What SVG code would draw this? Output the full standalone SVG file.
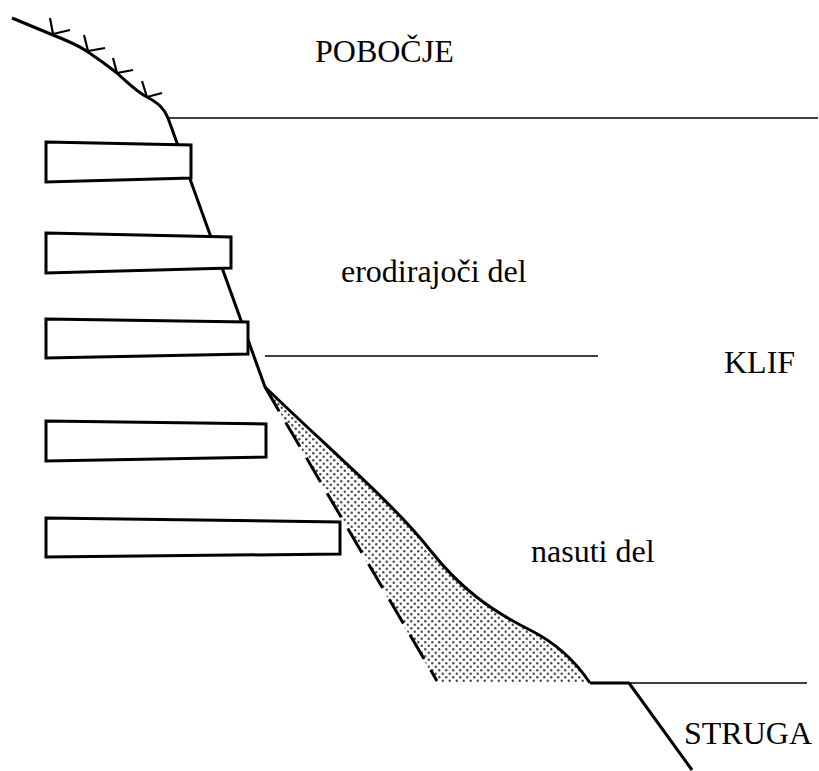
<svg xmlns="http://www.w3.org/2000/svg" width="819" height="771" viewBox="0 0 819 771">
  <style>
    .bold { fill: none; stroke: #000; stroke-width: 3; stroke-linejoin: round; stroke-linecap: butt; }
    .tick { fill: none; stroke: #000; stroke-width: 2.2; stroke-linejoin: miter; }
    .thin { fill: none; stroke: #000; stroke-width: 1.5; }
    .block { fill: #fff; stroke: #000; stroke-width: 3; stroke-linejoin: miter; }
    .label { font-family: "Liberation Serif", "Times New Roman", serif; font-size: 32px; fill: #000; }
  </style>
  <defs>
    <pattern id="stipple" x="0" y="0" width="7" height="7" patternUnits="userSpaceOnUse">
      <circle cx="1.75" cy="1.75" r="1.2" fill="#4a4a4a"/>
      <circle cx="5.25" cy="5.25" r="1.2" fill="#4a4a4a"/>
    </pattern>
    <!-- surface of the deposited material -->
    <path id="fillSurface" d="M265,387 C330,450 395,505 430,550 C460,588 490,610 530,630 C560,645 578,665 590,683"/>
  </defs>
  <rect width="819" height="771" fill="#fff"/>

  <!-- deposited material at the foot of the cliff -->
  <g id="deposit">
    <path d="M265,387 C330,450 395,505 430,550 C460,588 490,610 530,630 C560,645 578,665 590,683 L437,683 Z" fill="url(#stipple)"/>
  </g>

  <!-- slope, cliff, reference lines -->
  <g id="profile">
    <path class="bold" d="M12,18 L53,35 C68,41 80,46 88,52 C100,60 108,66 117,73 C127,82 137,92 147,97 C158,103 164,108 168,118 L265,387"/>
    <use href="#fillSurface" class="bold"/>
    <path class="bold" d="M590,683 L629,683 L692,770"/>
    <path class="bold" d="M265,387 L437,681" stroke-dasharray="28 13"/>
    <line class="thin" x1="168" y1="118" x2="818" y2="118"/>
    <line class="thin" x1="265" y1="356" x2="598" y2="356"/>
    <line class="thin" x1="629" y1="683" x2="807" y2="683"/>
  </g>

  <!-- vegetation ticks on the slope -->
  <g id="ticks">
    <polyline class="tick" points="50,18 53,34 70,30"/>
    <polyline class="tick" points="84,35 88,51 105,48"/>
    <polyline class="tick" points="113,58 117,73 133,70"/>
    <polyline class="tick" points="142,81 147,97 162,93"/>
  </g>

  <!-- tapered blocks -->
  <g id="block1"><polygon class="block" points="46,142 191,145 191,178 46,182"/></g>
  <g id="block2"><polygon class="block" points="46,233 231,237 231,268 46,273"/></g>
  <g id="block3"><polygon class="block" points="46,319 248,322 248,354 46,358"/></g>
  <g id="block4"><polygon class="block" points="46,421 266,424 266,457 46,461"/></g>
  <g id="block5"><polygon class="block" points="46,518 340,522 340,554 46,557"/></g>

  <!-- labels -->
  <g id="labels">
    <text class="label" x="315" y="62">POBOČJE</text>
    <text class="label" x="341" y="282">erodirajoči del</text>
    <text class="label" x="724" y="373">KLIF</text>
    <text class="label" x="531" y="562">nasuti del</text>
    <text class="label" x="684" y="744">STRUGA</text>
  </g>
</svg>
